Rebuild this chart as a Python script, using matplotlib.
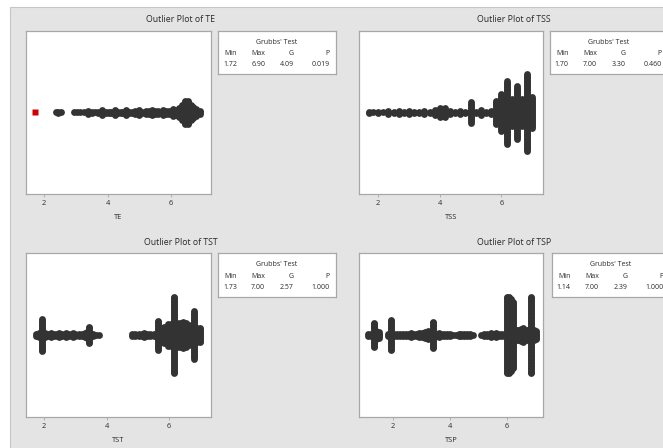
import matplotlib.pyplot as plt
from matplotlib.patches import Rectangle

plt.rcParams['font.family'] = ['Open Sans', 'DejaVu Sans']

# distinct values and how many observations sit on each one
te_vals = [2.38, 2.45, 2.52, 2.95, 3.05, 3.12, 3.25, 3.38, 3.5, 3.6, 3.7,
           3.83, 3.95, 4.05, 4.12, 4.22, 4.32, 4.42, 4.5, 4.58, 4.68, 4.78,
           4.88, 5.0, 5.1, 5.2, 5.3, 5.4, 5.5, 5.6, 5.74, 5.85, 5.95, 6.06,
           6.15, 6.25, 6.35, 6.45, 6.53, 6.62, 6.7, 6.8, 6.9]
te_counts = [1, 2, 1, 1, 1, 1, 1, 3, 2, 1, 2,
             4, 2, 2, 2, 4, 2, 2, 2, 5, 2, 2,
             3, 5, 2, 3, 3, 5, 3, 3, 5, 3, 3, 6,
             4, 7, 11, 17, 17, 12, 9, 6, 3]
te_outliers = [1.72]

tss_vals = [1.70, 1.83, 2.0, 2.17, 2.33, 2.5, 2.67, 2.83, 3.0, 3.17, 3.33,
            3.5, 3.67, 3.83, 4.0, 4.17, 4.33, 4.5, 4.67, 4.83, 5.0, 5.17,
            5.33, 5.5, 5.67, 5.83, 6.0, 6.17, 6.33, 6.5, 6.67, 6.83, 7.0]
tss_counts = [2, 1, 2, 1, 3, 2, 3, 2, 3, 2, 2,
              3, 2, 5, 7, 7, 3, 2, 3, 2, 15, 2,
              4, 2, 3, 17, 26, 44, 19, 37, 19, 54, 22]

tst_vals = [1.73, 1.83, 1.93, 2.03, 2.13, 2.22, 2.32, 2.4, 2.49, 2.58, 2.7,
            2.8, 2.91, 3.0, 3.1, 3.2, 3.3, 3.38, 3.45, 3.55, 3.65, 3.76,
            4.82, 4.92, 5.02, 5.12, 5.21, 5.3, 5.4, 5.5, 5.58, 5.65, 5.75,
            5.85, 5.95, 6.05, 6.15, 6.25, 6.35, 6.45, 6.55, 6.65, 6.73, 6.81,
            6.9, 7.0]
tst_counts = [2, 4, 23, 4, 3, 4, 2, 2, 4, 2, 4,
              2, 4, 2, 2, 3, 4, 5, 12, 2, 1, 1,
              2, 2, 2, 2, 4, 2, 2, 2, 3, 21, 3,
              12, 16, 16, 54, 17, 17, 19, 17, 15, 13, 34,
              11, 11]

tsp_vals = [1.14, 1.24, 1.33, 1.42, 1.5, 1.83, 1.94, 2.05, 2.15, 2.25, 2.35,
            2.45, 2.55, 2.63, 2.72, 2.82, 2.92, 3.02, 3.12, 3.22, 3.32, 3.4,
            3.5, 3.6, 3.7, 3.8, 3.9, 4.0, 4.1, 4.2, 4.3, 4.4, 4.5, 4.6, 4.7,
            4.8, 5.1, 5.2, 5.3, 5.43, 5.52, 5.6, 5.7, 5.8, 5.9, 6.0, 6.07,
            6.13, 6.2, 6.3, 6.4, 6.5, 6.55, 6.62, 6.7, 6.83, 6.93, 7.0]
tsp_counts = [2, 3, 18, 6, 5, 2, 22, 2, 2, 2, 3,
              2, 2, 4, 2, 3, 4, 4, 5, 6, 5, 19,
              3, 4, 2, 3, 2, 2, 1, 1, 2, 3, 3, 2, 2,
              1, 1, 2, 2, 4, 3, 4, 2, 2, 3, 54, 54,
              50, 47, 8, 8, 9, 10, 8, 8, 54, 8, 7]

# Grubbs' test results: Min, Max, G, P
te_stats = ['1.72', '6.90', '4.09', '0.019']
tss_stats = ['1.70', '7.00', '3.30', '0.460']
tst_stats = ['1.73', '7.00', '2.57', '1.000']
tsp_stats = ['1.14', '7.00', '2.39', '1.000']

W, H = 663, 448
DOT = '#333333'
EDGE = '#a8a8a8'
TXT = '#2a2a2a'

fig = plt.figure(figsize=(W / 100, H / 100), dpi=100)
fig.patch.set_facecolor('white')
fig.patches.append(Rectangle((10 / W, -0.1), 1, 1.1 - 7 / H, transform=fig.transFigure,
                             facecolor='#e4e4e4', edgecolor='#c6c6c6', lw=0.8, zorder=-10))


def px_axes(x0, y0, x1, y1):
    return fig.add_axes([x0 / W, 1 - y1 / H, (x1 - x0) / W, (y1 - y0) / H])


def outlier_panel(name, vals, counts, stats, xlim, plot_box, table_box, outliers=(), step=1.45):
    x0, y0, x1, y1 = plot_box
    ax = px_axes(*plot_box)
    ax.set_facecolor('white')
    half = (y1 - y0) / 2.0

    # stack repeated values symmetrically about the centre line (1 y unit = 1 px)
    xs, ys = [], []
    for v, n in zip(vals, counts):
        for k in range(n):
            xs.append(v)
            ys.append((k - (n - 1) / 2.0) * step)
    ax.plot(xs, ys, 'o', ms=4.9, color=DOT, mec='none')
    if len(outliers):
        ax.plot(outliers, [0] * len(outliers), 's', ms=4.0, color='#d00000', mec='none')

    ax.set_xlim(*xlim)
    ax.set_ylim(-half, half)
    ax.set_yticks([])
    ax.set_xticks([2, 4, 6])
    ax.tick_params(axis='x', direction='out', length=2.5, width=0.6, color=EDGE,
                   labelsize=5.3, labelcolor=TXT, pad=2)
    for s in ax.spines.values():
        s.set_color(EDGE)
        s.set_linewidth(0.9)
    ax.set_xlabel(name, fontsize=5.3, color=TXT, labelpad=5)

    # Grubbs' test box
    tx0, ty0, tx1, ty1 = table_box
    tb = px_axes(*table_box)
    tb.set_facecolor('white')
    tb.set_xticks([])
    tb.set_yticks([])
    for s in tb.spines.values():
        s.set_color(EDGE)
        s.set_linewidth(0.9)
    tb.text(0.5, 0.74, "Grubbs' Test", ha='center', va='center', fontsize=5.0, color=TXT)
    cols = [0.16, 0.40, 0.64, 0.945]
    for c, head, val in zip(cols, ['Min', 'Max', 'G', 'P'], stats):
        tb.text(c, 0.47, head, ha='right', va='center', fontsize=5.0, color=TXT)
        tb.text(c, 0.21, val, ha='right', va='center', fontsize=5.0, color=TXT)

    # title centred over plot and table together
    fig.text((x0 + tx1) / 2.0 / W, 1 - (y0 - 11) / H, 'Outlier Plot of ' + name,
             ha='center', va='center', fontsize=6.3, color=TXT)


outlier_panel('TE', te_vals, te_counts, te_stats, (1.43, 7.26),
              (26, 31, 211, 194), (218, 31, 336, 74), outliers=te_outliers)
outlier_panel('TSS', tss_vals, tss_counts, tss_stats, (1.38, 7.35),
              (359, 31, 543, 194), (550, 31, 668, 74))
outlier_panel('TST', tst_vals, tst_counts, tst_stats, (1.42, 7.34),
              (26, 253, 211, 417), (218, 253, 336, 297))
outlier_panel('TSP', tsp_vals, tsp_counts, tsp_stats, (0.81, 7.26),
              (359, 253, 543, 417), (552, 253, 670, 297))

plt.savefig('out.png', dpi=100)
